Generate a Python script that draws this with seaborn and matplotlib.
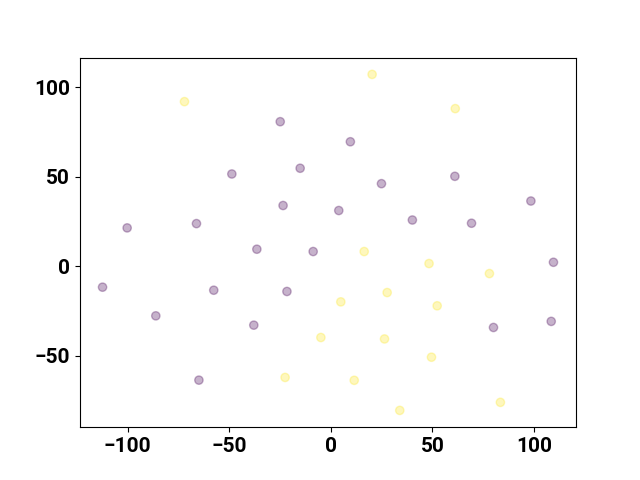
import numpy as np
import matplotlib
matplotlib.use("Agg")
import matplotlib.pyplot as plt
import seaborn as sns

# ============================================================================
# DATA
# ============================================================================
x_a = [-24.9, -48.7, -15.1, -23.5, -100.2, -66.1, 9.6, 24.9, 61.0, 3.9,
       40.1, 69.2, 98.4, -36.4, -8.7, -112.3, -57.6, -21.6, -86.1, -37.9,
       -64.9, 109.5, 80.0, 108.4]
y_a = [80.7, 51.5, 54.7, 33.9, 21.4, 23.8, 69.5, 46.1, 50.2, 31.1,
       25.8, 24.0, 36.4, 9.5, 8.2, -11.7, -13.4, -14.1, -27.7, -32.9,
       -63.6, 2.2, -34.2, -30.8]

x_b = [-72.0, 20.3, 61.2, 16.4, 48.3, 78.0, 4.9, 27.7, 52.3, -4.9,
       26.4, 49.5, -22.5, 11.5, 33.9, 83.4]
y_b = [91.9, 107.1, 88.0, 8.2, 1.5, -4.1, -19.9, -14.7, -22.1, -39.8,
       -40.6, -50.8, -62.1, -63.7, -80.5, -76.0]

xs = np.array(x_a + x_b)
ys = np.array(y_a + y_b)
cls = np.array([0] * len(x_a) + [1] * len(x_b))

# ============================================================================
# PLOT
# ============================================================================
plt.rcParams["font.family"] = ["Roboto", "DejaVu Sans"]
plt.rcParams["font.weight"] = "bold"

fig, ax = plt.subplots(figsize=(6.4, 4.8), dpi=100)
sns.scatterplot(x=xs, y=ys, hue=cls, palette={0: "#440154", 1: "#fde725"},
                alpha=0.3, edgecolor="face", linewidth=1, s=36,
                legend=False, ax=ax)
ax.tick_params(labelsize=15)
for lbl in ax.get_xticklabels() + ax.get_yticklabels():
    lbl.set_fontweight("bold")

fig.savefig("out.png", dpi=100)
